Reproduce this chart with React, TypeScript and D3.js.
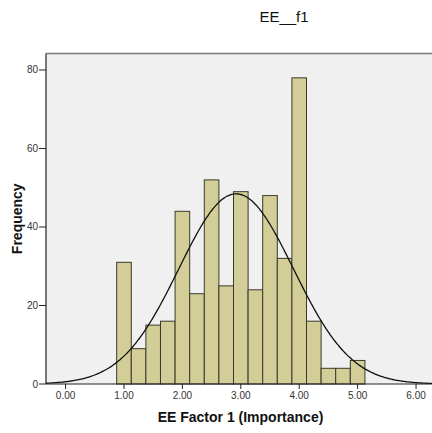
import React from "react";
import * as d3 from "d3";

// Histogram of EE__f1 with a fitted normal curve
const binStarts = [0.875, 1.125, 1.375, 1.625, 1.875, 2.125, 2.375, 2.625, 2.875, 3.125, 3.375, 3.625, 3.875, 4.125, 4.375, 4.625, 4.875];
const counts = [31, 9, 15, 16, 44, 23, 52, 25, 49, 24, 48, 32, 78, 16, 4, 4, 6];
const binWidth = 0.25;
const xTicks = [0, 1, 2, 3, 4, 5, 6];
const yTicks = [0, 20, 40, 60, 80];
const mean = 2.92;
const sd = 0.98;

const W = 432;
const H = 433;
const left = 46;
const right = 435.6;
const top = 53.5;
const bottom = 384;

export default function App() {
  const x = d3.scaleLinear().domain([-0.335, 6.335]).range([left, right]);
  const y = d3.scaleLinear().domain([0, 84.2]).range([bottom, top]);
  const n = d3.sum(counts);

  const curvePts: [number, number][] = [];
  const [d0, d1] = x.domain();
  for (let i = 0; i <= 300; i++) {
    const v = d0 + ((d1 - d0) * i) / 300;
    const dens = Math.exp(-0.5 * ((v - mean) / sd) ** 2) / (sd * Math.sqrt(2 * Math.PI));
    curvePts.push([v, dens * n * binWidth]);
  }
  const line = d3
    .line<[number, number]>()
    .x((d) => x(d[0]))
    .y((d) => y(d[1]))
    .curve(d3.curveBasis);

  const font = "Arial, 'Liberation Sans', sans-serif";

  return (
    <svg
      width={W}
      height={H}
      style={{ position: "absolute", left: 0, top: 0, background: "#fff" }}
      fontFamily={font}
    >
      <text x={284} y={22} textAnchor="middle" fontSize={15} fill="#111">
        EE__f1
      </text>

      <rect x={left} y={top} width={right - left} height={bottom - top} fill="#F0F0F0" />
      <line x1={left} x2={right} y1={top} y2={top} stroke="#7a7a7a" strokeWidth={1.6} />

      {counts.map((c, i) => (
        <rect
          key={i}
          x={x(binStarts[i])}
          y={y(c)}
          width={x(binStarts[i] + binWidth) - x(binStarts[i])}
          height={bottom - y(c)}
          fill="#D3CE97"
          stroke="#3a3a2a"
          strokeWidth={1}
        />
      ))}

      <path d={line(curvePts) || ""} fill="none" stroke="#111" strokeWidth={1.3} />

      <line x1={left} x2={left} y1={top} y2={bottom} stroke="#222" strokeWidth={1.2} />
      <line x1={left} x2={right} y1={bottom} y2={bottom} stroke="#222" strokeWidth={1.2} />

      {yTicks.map((t) => (
        <g key={t}>
          <line x1={left - 7} x2={left} y1={y(t)} y2={y(t)} stroke="#222" strokeWidth={1} />
          <text x={left - 8} y={y(t) + 3.5} textAnchor="end" fontSize={10} fill="#333">
            {t}
          </text>
        </g>
      ))}

      {xTicks.map((t) => (
        <g key={t}>
          <line x1={x(t)} x2={x(t)} y1={bottom} y2={bottom + 5} stroke="#222" strokeWidth={1} />
          <text x={x(t)} y={bottom + 14.5} textAnchor="middle" fontSize={10} fill="#333">
            {t.toFixed(2)}
          </text>
        </g>
      ))}

      <text x={240.5} y={422} textAnchor="middle" fontSize={14} fontWeight="bold" fill="#111">
        EE Factor 1 (Importance)
      </text>
      <text
        transform={`translate(22, ${(top + bottom) / 2 + 0}) rotate(-90)`}
        textAnchor="middle"
        fontSize={14}
        fontWeight="bold"
        fill="#111"
      >
        Frequency
      </text>
    </svg>
  );
}
